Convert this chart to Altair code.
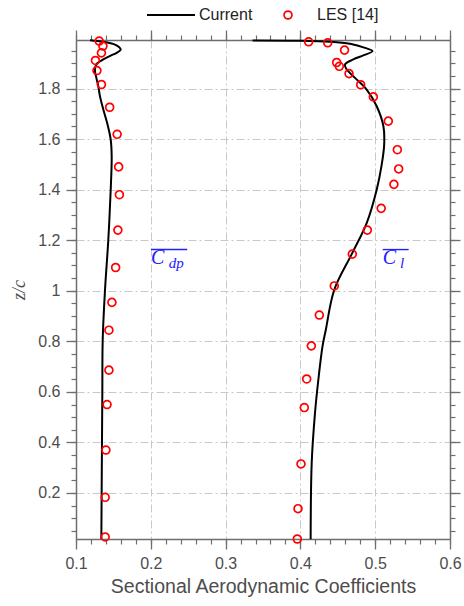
import altair as alt
import pandas as pd
import numpy as np

# ---------------- data ----------------
cdp_cur_z = [0.018, 0.30, 0.60, 0.806, 1.004, 1.202, 1.40, 1.532, 1.598, 1.66, 1.717, 1.77,
             1.809, 1.845, 1.868, 1.885, 1.90, 1.915, 1.931, 1.941, 1.954, 1.965, 1.974, 1.985, 1.991]
cdp_cur_x = [0.1339, 0.1345, 0.1352, 0.1357, 0.1388, 0.1432, 0.1464, 0.1477, 0.1464, 0.142, 0.1365, 0.132,
             0.1298, 0.127, 0.1254, 0.1258, 0.1285, 0.1365, 0.147, 0.1544, 0.1598, 0.157, 0.1521, 0.1365, 0.1187]

cl_cur_z = [0.017, 0.318, 0.516, 0.648, 0.779, 0.846, 1.004, 1.145, 1.268, 1.40, 1.499, 1.578, 1.651,
            1.730, 1.796, 1.842, 1.875, 1.895, 1.915, 1.931, 1.948, 1.961, 1.977, 1.985, 1.989, 1.990]
cl_cur_x = [0.4137, 0.4151, 0.4195, 0.424, 0.4295, 0.4340, 0.4453, 0.4686, 0.4886, 0.502, 0.5087, 0.512, 0.511,
            0.502, 0.4886, 0.473, 0.462, 0.4596, 0.4707, 0.4841, 0.4965, 0.4864, 0.4663, 0.4396, 0.395, 0.336]

cdp_les_z = [1.988, 1.968, 1.941, 1.911, 1.871, 1.816, 1.726, 1.619, 1.490, 1.380, 1.240, 1.092,
             0.954, 0.844, 0.686, 0.550, 0.370, 0.183, 0.026]
cdp_les_x = [0.131, 0.136, 0.134, 0.126, 0.128, 0.134, 0.145, 0.155, 0.157, 0.158, 0.156, 0.153,
             0.148, 0.144, 0.144, 0.1415, 0.140, 0.139, 0.139]

cl_les_z = [1.985, 1.981, 1.952, 1.903, 1.888, 1.859, 1.815, 1.767, 1.671, 1.558, 1.482, 1.421,
            1.326, 1.240, 1.145, 1.019, 0.904, 0.782, 0.651, 0.538, 0.315, 0.138, 0.018]
cl_les_x = [0.411, 0.4365, 0.459, 0.4485, 0.452, 0.465, 0.4806, 0.4975, 0.5175, 0.5296, 0.5314, 0.525,
            0.508, 0.4895, 0.4694, 0.4453, 0.4253, 0.4146, 0.4084, 0.4052, 0.4008, 0.3968, 0.3959]

legend_labels = ["Current", "LES [14]"]
x_title = "Sectional Aerodynamic Coefficients"
y_title = "z/c"
x_ticks = [0.1, 0.2, 0.3, 0.4, 0.5, 0.6]
y_ticks = [0.2, 0.4, 0.6, 0.8, 1.0, 1.2, 1.4, 1.6, 1.8]
x_minor = [round(v, 2) for v in np.arange(0.1, 0.6001, 0.02)]
y_minor = [round(v, 2) for v in np.arange(0.05, 1.99, 0.05)]
x_domain = [0.1, 0.6]
y_domain = [0.018, 1.992]

# annotation labels (main letter, subscript) and their anchor positions
ann_main = ["C", "C"]
ann_sub = ["dp", "l"]
ann_x = [0.2003, 0.5100]
ann_y = [1.107, 1.107]
ann_sub_x = [0.2240, 0.5330]
ann_sub_y = [1.091, 1.091]
ann_bar_x1 = [0.2003, 0.5100]
ann_bar_x2 = [0.2487, 0.5447]
ann_bar_y = [1.163, 1.163]

# ---------------- tables ----------------
cur = pd.DataFrame({
    "x": cdp_cur_x + cl_cur_x,
    "z": cdp_cur_z + cl_cur_z,
    "curve": ["Cdp"] * len(cdp_cur_x) + ["Cl"] * len(cl_cur_x),
    "order": list(range(len(cdp_cur_x))) + list(range(len(cl_cur_x))),
})
les = pd.DataFrame({"x": cdp_les_x + cl_les_x, "z": cdp_les_z + cl_les_z})
ann = pd.DataFrame({"x": ann_x, "y": ann_y, "t": ann_main,
                    "sx": ann_sub_x, "sy": ann_sub_y, "st": ann_sub,
                    "bx1": ann_bar_x1, "bx2": ann_bar_x2, "by": ann_bar_y})
one = pd.DataFrame({"a": [0]})

AX = "#6e6e6e"
LAB = "#4d4d4d"
FONT = "Liberation Sans"
BLUE = "#2020ff"

xs = alt.Scale(domain=x_domain, nice=False, zero=False)
ys = alt.Scale(domain=y_domain, nice=False, zero=False)

def major(orient, vals, labels=True, grid=False, title=None):
    kw = dict(orient=orient, values=vals, tickSize=10, tickColor=AX, tickWidth=1.3,
              domain=True, domainColor=AX, domainWidth=1.5, labels=labels, grid=grid)
    if grid:
        kw.update(gridColor="#c8c8c8", gridDash=[8, 3, 2, 3], gridWidth=1)
    if labels:
        kw.update(labelFont=FONT, labelFontSize=16, labelColor=LAB, labelPadding=6,
                  labelExpr="format(datum.value, '~g')", labelFlush=False, labelOverlap=False)
    kw["title"] = title if title is not None else None
    return alt.Axis(**kw)

def minor(orient, vals):
    return alt.Axis(orient=orient, values=vals, tickSize=5, tickColor=AX, tickWidth=1.2,
                    domain=False, labels=False, grid=False, title=None)

x_bottom = major("bottom", x_ticks, labels=True, grid=True, title=x_title)
x_bottom.titleFont = FONT
x_bottom.titleFontSize = 19.5
x_bottom.titleColor = LAB
x_bottom.titleFontWeight = "normal"
x_bottom.titlePadding = 6

y_left = major("left", y_ticks, labels=True, grid=True, title=y_title)
y_left.titleFont = "Liberation Serif"
y_left.titleFontStyle = "italic"
y_left.titleFontSize = 18
y_left.titleColor = LAB
y_left.titleFontWeight = "normal"
y_left.titlePadding = 9

line = alt.Chart(cur).mark_line(color="black", strokeWidth=2, interpolate="catmull-rom").encode(
    x=alt.X("x:Q", scale=xs, axis=x_bottom),
    y=alt.Y("z:Q", scale=ys, axis=y_left),
    detail="curve:N",
    order="order:Q",
)

pts = alt.Chart(les).mark_point(shape="circle", filled=False, color="#ff0000",
                                size=62, strokeWidth=1.7, opacity=1).encode(
    x=alt.X("x:Q", scale=xs, axis=minor("bottom", x_minor)),
    y=alt.Y("z:Q", scale=ys, axis=minor("left", y_minor)),
)

ann_c = alt.Chart(ann).mark_text(font="Liberation Serif", fontStyle="italic", fontSize=20,
                                 color=BLUE, align="left", baseline="alphabetic").encode(
    x=alt.X("x:Q", scale=xs, axis=major("top", x_ticks, labels=False)),
    y=alt.Y("y:Q", scale=ys, axis=major("right", y_ticks, labels=False)),
    text="t:N",
)

ann_s = alt.Chart(ann).mark_text(font="Liberation Serif", fontStyle="italic", fontSize=15,
                                 color=BLUE, align="left", baseline="alphabetic").encode(
    x=alt.X("sx:Q", scale=xs, axis=minor("top", x_minor)),
    y=alt.Y("sy:Q", scale=ys, axis=minor("right", y_minor)),
    text="st:N",
)

ann_bar = alt.Chart(ann).mark_rule(color=BLUE, strokeWidth=1.4).encode(
    x=alt.X("bx1:Q", scale=xs, axis=None),
    x2="bx2:Q",
    y=alt.Y("by:Q", scale=ys, axis=None),
)

# legend (placed above the plot area)
leg_line = alt.Chart(one).mark_rule(color="black", strokeWidth=2).encode(
    x=alt.value(71), x2=alt.value(119), y=alt.value(-25))
leg_t1 = alt.Chart(one).mark_text(text=legend_labels[0], font=FONT, fontSize=16, color="#222222",
                                  align="left", baseline="middle").encode(
    x=alt.value(123), y=alt.value(-25))
leg_pt = alt.Chart(one).mark_point(shape="circle", filled=False, color="#ff0000", size=62,
                                   strokeWidth=1.7, opacity=1).encode(
    x=alt.value(212), y=alt.value(-25))
leg_t2 = alt.Chart(one).mark_text(text=legend_labels[1], font=FONT, fontSize=16, color="#222222",
                                  align="left", baseline="middle").encode(
    x=alt.value(241), y=alt.value(-25))

chart = alt.layer(line, pts, ann_c, ann_s, ann_bar, leg_line, leg_t1, leg_pt, leg_t2).resolve_axis(
    x="independent", y="independent"
).properties(
    width=374, height=499,
    autosize=alt.AutoSizeParams(type="none"),
    padding={"left": 76, "top": 40, "right": 14, "bottom": 67},
    background="white",
).configure_view(stroke=None)

chart.save("out.html", embed_options={"renderer": "svg", "actions": False})
